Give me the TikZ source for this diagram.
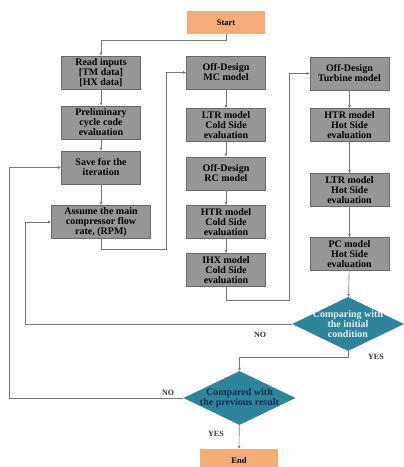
\documentclass[tikz,border=0pt]{standalone}
\usepackage{fontspec}
\setmainfont{Liberation Serif}
\usetikzlibrary{shapes.geometric,arrows.meta}

\definecolor{boxgray}{RGB}{150,150,150}
\definecolor{boxedge}{RGB}{105,105,105}
\definecolor{termorange}{RGB}{244,172,120}
\definecolor{decteal}{RGB}{45,132,155}
\definecolor{lineclr}{RGB}{120,120,120}
\definecolor{darktext}{RGB}{25,45,80}

\tikzset{
  stage/.style={draw=boxedge, fill=boxgray, line width=0.8pt, minimum width=79pt,
    minimum height=33pt, inner sep=1pt, align=center,
    font=\fontsize{10}{10}\selectfont\bfseries},
  terminal/.style={fill=termorange, minimum width=78pt, minimum height=23pt,
    inner sep=1pt, font=\fontsize{8.5}{10}\selectfont\bfseries},
  decision/.style={diamond, fill=decteal, minimum width=112pt, minimum height=54pt,
    inner sep=0pt},
  dectext/.style={align=center, font=\fontsize{10}{10}\selectfont\bfseries},
  flow/.style={draw=lineclr, line width=0.6pt, -{Latex[length=3pt,width=3pt]}},
  answer/.style={font=\fontsize{8}{9}\selectfont\bfseries, text=black!80}
}

\begin{document}
\begin{tikzpicture}[x=1pt, y=-1pt]
  \useasboundingbox (0,0) rectangle (404,467);

  \node[terminal] (start) at (226,22.5) {Start};

  % first column
  \node[stage] (read)   at (101,72.5)  {Read inputs\\{[TM data]}\\{[HX data]}};
  \node[stage] (prelim) at (101,122.5) {Preliminary\\cycle code\\evaluation};
  \node[stage] (save)   at (101,167.5) {Save for the\\iteration};
  \node[stage, minimum width=99pt] (assume) at (101,222)
    {Assume the main\\compressor flow\\rate, (RPM)};

  % second column
  \node[stage] (mc)   at (226,72.5)  {Off-Design\\MC model};
  \node[stage] (ltrc) at (226,125)   {LTR model\\Cold Side\\evaluation};
  \node[stage] (rc)   at (226,173.5) {Off-Design\\RC model};
  \node[stage] (htrc) at (226,222)   {HTR model\\Cold Side\\evaluation};
  \node[stage] (ihxc) at (226,270)   {IHX model\\Cold Side\\evaluation};

  % third column
  \node[stage] (turb) at (349.5,73.5) {Off-Design\\Turbine model};
  \node[stage] (htrh) at (349.5,125)  {HTR model\\Hot Side\\evaluation};
  \node[stage] (ltrh) at (349.5,190)  {LTR model\\Hot Side\\evaluation};
  \node[stage] (pch)  at (349.5,254)  {PC model\\Hot Side\\evaluation};

  \node[decision] (cmp1) at (348,324) {};
  \node[dectext, text=white!88!decteal] at (cmp1) {Comparing with\\the initial\\condition};
  \node[decision] (cmp2) at (239.5,398) {};
  \node[dectext, text=darktext] at (cmp2) {Compared with\\the previous result};

  \node[terminal] (end) at (239,460.5) {End};

  \draw[flow] (start.south) -- ++(0,6) -| (read.north);
  \draw[flow] (read) -- (prelim);
  \draw[flow] (prelim) -- (save);
  \draw[flow] (save) -- (assume);
  \draw[flow] (assume.south) -- ++(0,10) -| ([xshift=-20pt]mc.west) -- (mc.west);
  \draw[flow] (mc) -- (ltrc);
  \draw[flow] (ltrc) -- (rc);
  \draw[flow] (rc) -- (htrc);
  \draw[flow] (htrc) -- (ihxc);
  \draw[flow] (ihxc.south) -- ++(0,13) -| ([xshift=-20pt]turb.west) -- (turb.west);
  \draw[flow] (turb) -- (htrh);
  \draw[flow] (htrh) -- (ltrh);
  \draw[flow] (ltrh) -- (pch);
  \draw[flow] (pch) -- (cmp1);
  \draw[flow] (cmp1.west) -| ([xshift=-26pt]assume.west) -- (assume.west);
  \draw[flow] (cmp1.south) -- ++(0,6) -| (cmp2.north);
  \draw[flow] (cmp2.west) -| ([xshift=-52pt]save.west) -- (save.west);
  \draw[flow] (cmp2) -- (end);

  \node[answer] (no1)  at (260,335) {NO};
  \node[answer] (yes1) at (376,357) {YES};
  \node[answer] (no2)  at (168,393) {NO};
  \node[answer] (yes2) at (216,434) {YES};
\end{tikzpicture}
\end{document}
